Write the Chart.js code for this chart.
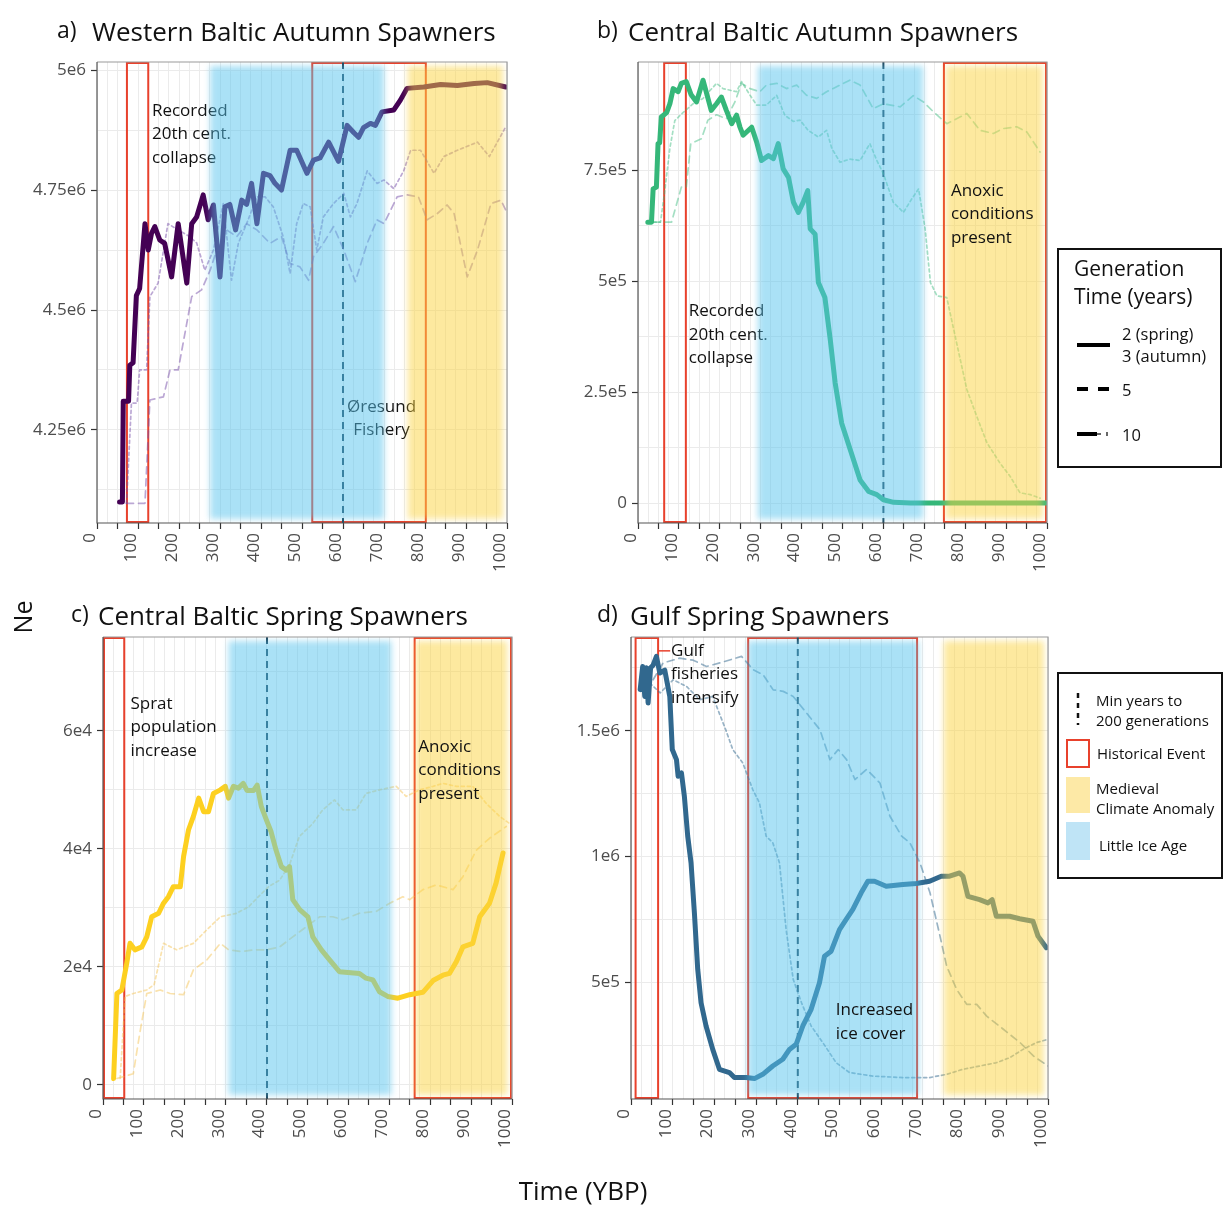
<!DOCTYPE html>
<html>
<head>
<meta charset="utf-8">
<script src="https://cdn.jsdelivr.net/npm/chart.js@4"></script>
<style>
  body { margin: 0; background: #fff; }
  #page { position: relative; width: 1225px; height: 1216px; overflow: hidden; font-family: "Open Sans", sans-serif; }
  .panel { position: absolute; }
  #overlay { position: absolute; left: 0; top: 0; pointer-events: none; }
  #overlay text { font-family: "Open Sans", sans-serif; fill: #111; dominant-baseline: central; }
</style>
</head>
<body>
<div id="page">
  <canvas class="panel" id="panelA" width="520" height="545" style="left:0px;top:50px"></canvas>
  <canvas class="panel" id="panelB" width="520" height="545" style="left:540px;top:50px"></canvas>
  <canvas class="panel" id="panelC" width="525" height="545" style="left:0px;top:625px"></canvas>
  <canvas class="panel" id="panelD" width="520" height="545" style="left:540px;top:625px"></canvas>

  <svg id="overlay" width="1225" height="1216">
    <!-- panel titles -->
    <text x="57" y="29" font-size="23">a)</text>
    <text x="92" y="31" font-size="26">Western Baltic Autumn Spawners</text>
    <text x="597" y="29" font-size="23">b)</text>
    <text x="628" y="31" font-size="26">Central Baltic Autumn Spawners</text>
    <text x="71" y="613" font-size="23">c)</text>
    <text x="98" y="615" font-size="26">Central Baltic Spring Spawners</text>
    <text x="597" y="613" font-size="23">d)</text>
    <text x="630" y="615" font-size="26">Gulf Spring Spawners</text>

    <!-- shared axis titles -->
    <text x="22" y="617" font-size="25" text-anchor="middle" transform="rotate(-90 22 617)">Ne</text>
    <text x="583" y="1190" font-size="26" text-anchor="middle">Time (YBP)</text>

    <!-- legend: generation time -->
    <rect x="1058" y="249" width="163" height="218" fill="#fff" stroke="#111" stroke-width="2"/>
    <text x="1074" y="268" font-size="21">Generation</text>
    <text x="1074" y="296" font-size="21">Time (years)</text>
    <line x1="1077" y1="345" x2="1110" y2="345" stroke="#000" stroke-width="4"/>
    <text x="1122" y="333" font-size="16.5">2 (spring)</text>
    <text x="1122" y="355" font-size="16.5">3 (autumn)</text>
    <line x1="1077" y1="389" x2="1109" y2="389" stroke="#000" stroke-width="4" stroke-dasharray="11 10"/>
    <text x="1122" y="389" font-size="16.5">5</text>
    <line x1="1077" y1="434" x2="1097" y2="434" stroke="#000" stroke-width="4"/>
    <line x1="1097" y1="434" x2="1101" y2="434" stroke="#000" stroke-width="1.2"/>
    <line x1="1107" y1="432" x2="1107" y2="436" stroke="#000" stroke-width="1.2"/>
    <text x="1122" y="434" font-size="16.5">10</text>

    <!-- legend: annotations -->
    <rect x="1058" y="673" width="164" height="205" fill="#fff" stroke="#111" stroke-width="2"/>
    <line x1="1078" y1="693" x2="1078" y2="725" stroke="#111" stroke-width="2.5" stroke-dasharray="5 5"/>
    <text x="1096" y="700" font-size="15">Min years to</text>
    <text x="1096" y="720" font-size="15">200 generations</text>
    <rect x="1067" y="740" width="22" height="27" fill="none" stroke="#e8412c" stroke-width="2"/>
    <text x="1097" y="753" font-size="15">Historical Event</text>
    <rect x="1066" y="777" width="24" height="36" fill="#fde9a6"/>
    <text x="1096" y="788" font-size="15">Medieval</text>
    <text x="1096" y="808" font-size="15">Climate Anomaly</text>
    <rect x="1066" y="822" width="24" height="38" fill="#bfe4f6"/>
    <text x="1099" y="845" font-size="15">Little Ice Age</text>
  </svg>
</div>

<script>
// ---- data: [years before present, Ne] ----

// a) Western Baltic autumn spawners
const westSolid = [[55,4.10e6],[62,4.10e6],[64,4.31e6],[77,4.31e6],[80,4.385e6],[88,4.39e6],[96,4.53e6],[104,4.545e6],[117,4.68e6],[125,4.625e6],[133,4.66e6],[141,4.674e6],[153,4.646e6],[165,4.639e6],[182,4.569e6],[198,4.68e6],[219,4.556e6],[231,4.68e6],[243,4.694e6],[259,4.74e6],[271,4.688e6],[284,4.719e6],[300,4.569e6],[312,4.715e6],[324,4.72e6],[338,4.667e6],[353,4.729e6],[365,4.72e6],[377,4.764e6],[390,4.68e6],[406,4.785e6],[422,4.78e6],[434,4.764e6],[450,4.75e6],[471,4.833e6],[487,4.833e6],[512,4.785e6],[528,4.8125e6],[544,4.817e6],[565,4.85e6],[589,4.81e6],[610,4.885e6],[626,4.87e6],[638,4.86e6],[650,4.88e6],[667,4.889e6],[679,4.885e6],[695,4.913e6],[724,4.917e6],[740,4.9375e6],[756,4.962e6],[797,4.965e6],[838,4.97e6],[879,4.968e6],[920,4.972e6],[952,4.974e6],[997,4.965e6]];
const westDot = [[72,4.097e6],[84,4.306e6],[98,4.306e6],[104,4.375e6],[121,4.375e6],[129,4.528e6],[149,4.556e6],[173,4.68e6],[198,4.667e6],[226,4.653e6],[243,4.64e6],[263,4.583e6],[284,4.625e6],[308,4.722e6],[328,4.562e6],[345,4.64e6],[365,4.68e6],[390,4.736e6],[410,4.736e6],[430,4.715e6],[454,4.653e6],[471,4.576e6],[487,4.68e6],[503,4.722e6],[520,4.715e6],[536,4.625e6],[552,4.694e6],[577,4.722e6],[602,4.743e6],[618,4.694e6],[634,4.722e6],[659,4.79e6],[683,4.764e6],[700,4.771e6],[724,4.753e6],[748,4.79e6],[765,4.833e6],[789,4.833e6],[822,4.785e6],[846,4.82e6],[879,4.833e6],[928,4.85e6],[957,4.82e6],[997,4.882e6]];
const westDash = [[72,4.097e6],[117,4.097e6],[129,4.3125e6],[162,4.319e6],[178,4.375e6],[198,4.375e6],[231,4.528e6],[255,4.542e6],[276,4.583e6],[292,4.625e6],[316,4.667e6],[341,4.653e6],[365,4.68e6],[390,4.667e6],[422,4.639e6],[450,4.653e6],[471,4.597e6],[495,4.59e6],[516,4.562e6],[528,4.611e6],[552,4.639e6],[577,4.674e6],[602,4.625e6],[630,4.559e6],[659,4.639e6],[683,4.688e6],[700,4.68e6],[732,4.736e6],[756,4.74e6],[784,4.736e6],[805,4.688e6],[830,4.701e6],[854,4.719e6],[871,4.701e6],[903,4.569e6],[928,4.625e6],[961,4.722e6],[985,4.729e6],[997,4.708e6]];

// b) Central Baltic autumn spawners
const cenAutSolid = [[24,633e3],[33,633e3],[37,708e3],[45,712e3],[49,810e3],[53,812e3],[57,870e3],[70,880e3],[78,900e3],[86,934e3],[98,927e3],[106,946e3],[118,950e3],[130,920e3],[143,904e3],[159,953e3],[179,885e3],[192,900e3],[204,915e3],[216,885e3],[229,855e3],[241,874e3],[249,848e3],[257,829e3],[278,847e3],[290,814e3],[302,772e3],[319,783e3],[331,776e3],[343,810e3],[355,753e3],[368,734e3],[380,678e3],[392,655e3],[404,678e3],[415,704e3],[421,618e3],[433,606e3],[441,497e3],[457,463e3],[470,369e3],[482,271e3],[498,180e3],[519,120e3],[543,52e3],[564,26e3],[584,19e3],[600,7.5e3],[625,1.5e3],[666,0],[1000,0]];
const cenAutDot = [[37,633e3],[55,633e3],[65,700e3],[78,800e3],[90,862e3],[110,880e3],[135,900e3],[159,912e3],[192,946e3],[208,934e3],[241,927e3],[253,950e3],[274,919e3],[290,897e3],[314,897e3],[339,919e3],[359,874e3],[380,860e3],[396,863e3],[416,840e3],[441,825e3],[461,840e3],[474,799e3],[494,768e3],[518,775e3],[543,772e3],[567,810e3],[584,772e3],[600,742e3],[624,678e3],[649,655e3],[669,685e3],[686,708e3],[702,618e3],[715,497e3],[731,467e3],[755,463e3],[779,361e3],[804,256e3],[828,196e3],[853,136e3],[885,90e3],[910,60e3],[934,23e3],[959,19e3],[983,11e3]];
const cenAutDash = [[37,633e3],[82,633e3],[106,712e3],[118,712e3],[129,810e3],[155,821e3],[171,863e3],[192,875e3],[216,866e3],[237,904e3],[253,946e3],[274,934e3],[298,927e3],[314,942e3],[339,946e3],[363,934e3],[388,942e3],[412,919e3],[437,912e3],[461,927e3],[494,942e3],[518,953e3],[543,942e3],[575,889e3],[600,900e3],[641,893e3],[673,918e3],[698,904e3],[722,882e3],[755,855e3],[779,866e3],[804,878e3],[836,840e3],[869,833e3],[893,844e3],[926,848e3],[951,836e3],[983,791e3]];

// c) Central Baltic spring spawners
const cenSprSolid = [[26,1.1e3],[34,15.5e3],[46,16.1e3],[58,20.6e3],[66,24e3],[78,22.9e3],[95,23.4e3],[107,25.1e3],[119,28.5e3],[136,29.1e3],[148,30.8e3],[160,31.9e3],[172,33.6e3],[189,33.6e3],[197,38.7e3],[209,43.2e3],[221,45.5e3],[234,48.6e3],[246,46.3e3],[258,46.3e3],[270,49.4e3],[287,50e3],[299,50.6e3],[307,48.6e3],[319,50.6e3],[331,50.3e3],[343,51.1e3],[352,49.9e3],[368,49.9e3],[377,50.8e3],[387,47.2e3],[399,45e3],[411,42.9e3],[423,39.8e3],[436,37e3],[448,36.4e3],[456,37e3],[464,31.4e3],[481,29.7e3],[501,28.5e3],[513,25.1e3],[534,22.9e3],[554,21.2e3],[578,19.2e3],[627,18.9e3],[643,18.1e3],[660,17.8e3],[676,15.8e3],[696,15e3],[721,14.7e3],[750,15.3e3],[782,15.7e3],[807,17.7e3],[831,18.6e3],[847,18.9e3],[864,20.9e3],[880,23.4e3],[904,24e3],[921,28.5e3],[945,30.8e3],[961,34.2e3],[978,39.3e3]];
const cenSprDot = [[42,1.1e3],[54,15e3],[74,15.5e3],[107,16.1e3],[125,17e3],[148,24e3],[180,22.9e3],[221,24e3],[254,26.3e3],[287,28.5e3],[327,29.1e3],[356,30.2e3],[380,31.9e3],[405,33.6e3],[432,34.7e3],[456,37.3e3],[480,42.1e3],[513,44.3e3],[537,46.6e3],[566,48.3e3],[587,46.6e3],[619,46.6e3],[643,49.4e3],[676,50e3],[717,50.6e3],[741,48.9e3],[774,50e3],[807,50.6e3],[831,51.1e3],[864,50.6e3],[904,50.6e3],[937,47.7e3],[970,45.5e3],[994,44.3e3]];
const cenSprDash = [[34,1.1e3],[74,1.9e3],[90,8.8e3],[107,15.5e3],[140,16.1e3],[164,15.5e3],[197,15.3e3],[221,19.5e3],[254,21.2e3],[287,24e3],[307,22.9e3],[340,22.6e3],[368,22.9e3],[400,22.9e3],[432,23.4e3],[464,25.1e3],[497,26.8e3],[530,28.5e3],[562,28.5e3],[587,28e3],[627,29.1e3],[668,29.4e3],[701,30.8e3],[733,31.9e3],[750,31.4e3],[782,33.1e3],[815,33.9e3],[856,33.1e3],[880,35.3e3],[913,39.8e3],[945,41.8e3],[986,43.8e3]];

// d) Gulf spring spawners
const gulfSolid = [[22,1.663e6],[28,1.755e6],[33,1.636e6],[37,1.75e6],[41,1.61e6],[47,1.75e6],[53,1.76e6],[61,1.795e6],[69,1.729e6],[81,1.74e6],[93,1.636e6],[99,1.425e6],[109,1.385e6],[113,1.319e6],[121,1.332e6],[128,1.239e6],[136,1.081e6],[144,0.975e6],[152,0.777e6],[160,0.552e6],[168,0.419e6],[180,0.327e6],[196,0.234e6],[212,0.155e6],[236,0.142e6],[248,0.122e6],[276,0.122e6],[296,0.118e6],[316,0.135e6],[340,0.168e6],[364,0.195e6],[380,0.234e6],[396,0.254e6],[412,0.327e6],[432,0.393e6],[452,0.499e6],[464,0.604e6],[480,0.624e6],[500,0.71e6],[516,0.75e6],[532,0.79e6],[552,0.856e6],[568,0.902e6],[584,0.902e6],[612,0.882e6],[652,0.889e6],[684,0.893e6],[716,0.902e6],[744,0.922e6],[764,0.922e6],[788,0.935e6],[796,0.922e6],[808,0.842e6],[836,0.829e6],[856,0.816e6],[866,0.829e6],[876,0.763e6],[908,0.763e6],[932,0.753e6],[964,0.743e6],[976,0.684e6],[996,0.638e6]];
const gulfDot = [[45,1.689e6],[70,1.65e6],[101,1.702e6],[133,1.676e6],[165,1.623e6],[196,1.636e6],[228,1.5e6],[244,1.425e6],[268,1.372e6],[292,1.266e6],[308,1.213e6],[324,1.081e6],[340,1.055e6],[356,0.975e6],[372,0.71e6],[389,0.512e6],[409,0.419e6],[432,0.327e6],[460,0.261e6],[492,0.181e6],[524,0.142e6],[580,0.128e6],[652,0.122e6],[716,0.122e6],[757,0.135e6],[796,0.155e6],[836,0.168e6],[876,0.181e6],[908,0.201e6],[940,0.234e6],[972,0.261e6],[1000,0.274e6]];
const gulfDash = [[53,1.702e6],[77,1.769e6],[117,1.788e6],[149,1.78e6],[181,1.755e6],[213,1.769e6],[265,1.795e6],[293,1.742e6],[317,1.722e6],[341,1.662e6],[365,1.656e6],[389,1.636e6],[421,1.57e6],[453,1.504e6],[477,1.385e6],[497,1.425e6],[517,1.385e6],[537,1.306e6],[565,1.346e6],[597,1.292e6],[621,1.16e6],[649,1.081e6],[669,1.054e6],[693,0.975e6],[717,0.856e6],[741,0.684e6],[757,0.565e6],[781,0.472e6],[805,0.413e6],[829,0.413e6],[853,0.366e6],[893,0.314e6],[933,0.261e6],[965,0.208e6],[1000,0.168e6]];

// axis ticks
const xLabelTicks = [0, 100, 200, 300, 400, 500, 600, 700, 800, 900, 1000];
const westTicks = [4.25e6, 4.5e6, 4.75e6, 5e6];
const westTickLabels = ['4.25e6', '4.5e6', '4.75e6', '5e6'];
const cenAutTicks = [0, 2.5e5, 5e5, 7.5e5];
const cenAutTickLabels = ['0', '2.5e5', '5e5', '7.5e5'];
const cenSprTicks = [0, 2e4, 4e4, 6e4];
const cenSprTickLabels = ['0', '2e4', '4e4', '6e4'];
const gulfTicks = [5e5, 1e6, 1.5e6];
const gulfTickLabels = ['5e5', '1e6', '1.5e6'];

const FONT = '"Open Sans", sans-serif';
const BLUE_BAND = 'rgba(86,196,238,0.5)';
const YELLOW_BAND = 'rgba(251,212,64,0.5)';
const RED = '#e8412c';

const toXY = arr => arr.map(p => ({ x: p[0], y: p[1] }));

function makePanel(id, p) {
  // grid every 25 years, tick marks every 50, labels every 100
  const xGrid = [];
  for (let v = 0; v <= 1000; v += 25) xGrid.push(v);
  const yStep = p.yTicks[1] - p.yTicks[0];
  const yGrid = [];
  for (let v = p.yTicks[0] - 4 * yStep; v <= p.yMax; v += yStep / 2) {
    if (v >= p.yMin) yGrid.push(v);
  }

  const decor = {
    id: 'decor_' + id,
    beforeDatasetsDraw(chart) {
      const ctx = chart.ctx, a = chart.chartArea, xs = chart.scales.x;
      ctx.save();
      // historical events
      ctx.strokeStyle = RED;
      ctx.lineWidth = 2;
      p.events.forEach(e => {
        const x0 = Math.max(xs.getPixelForValue(e[0]), a.left + 1);
        const x1 = Math.min(xs.getPixelForValue(e[1]), a.right - 1);
        ctx.strokeRect(x0, a.top + 1, x1 - x0, a.height - 2);
      });
      // min years to 200 generations
      const gx = xs.getPixelForValue(p.gen200);
      ctx.strokeStyle = '#1c3f55';
      ctx.lineWidth = 2;
      ctx.setLineDash([7, 5]);
      ctx.beginPath();
      ctx.moveTo(gx, a.top);
      ctx.lineTo(gx, a.bottom);
      ctx.stroke();
      ctx.restore();
      drawTexts(chart, false);
    },
    afterDatasetsDraw(chart) {
      const ctx = chart.ctx, a = chart.chartArea, xs = chart.scales.x;
      ctx.save();
      ctx.beginPath();
      ctx.rect(a.left, a.top, a.width, a.height);
      ctx.clip();
      ctx.filter = 'blur(3px)';
      const band = (r, col) => {
        const x0 = xs.getPixelForValue(r[0]), x1 = xs.getPixelForValue(r[1]);
        ctx.fillStyle = col;
        ctx.fillRect(x0, a.top + 4, x1 - x0, a.height - 8);
      };
      band(p.lia, BLUE_BAND);
      band(p.mca, YELLOW_BAND);
      ctx.restore();
      drawTexts(chart, true);
      // panel border
      ctx.save();
      ctx.lineWidth = 1.2;
      ctx.strokeStyle = '#9a9a9a';
      ctx.beginPath();
      ctx.moveTo(a.left, a.top); ctx.lineTo(a.right, a.top); ctx.lineTo(a.right, a.bottom);
      ctx.stroke();
      ctx.strokeStyle = '#555';
      ctx.beginPath();
      ctx.moveTo(a.left, a.top); ctx.lineTo(a.left, a.bottom); ctx.lineTo(a.right, a.bottom);
      ctx.stroke();
      ctx.restore();
    }
  };

  function drawTexts(chart, onTop) {
    const ctx = chart.ctx, xs = chart.scales.x, ys = chart.scales.y;
    ctx.save();
    ctx.font = '17px ' + FONT;
    ctx.fillStyle = '#111';
    ctx.textBaseline = 'middle';
    p.notes.filter(n => !!n.top === onTop).forEach(n => {
      const x = xs.getPixelForValue(n.x), y = ys.getPixelForValue(n.y);
      ctx.textAlign = n.align || 'left';
      n.lines.forEach((t, i) => ctx.fillText(t, x, y + i * 23.5));
      if (n.leader) {
        ctx.strokeStyle = RED;
        ctx.lineWidth = 1.5;
        ctx.beginPath();
        ctx.moveTo(xs.getPixelForValue(n.leader[0]), y);
        ctx.lineTo(xs.getPixelForValue(n.leader[1]), y);
        ctx.stroke();
      }
    });
    ctx.restore();
  }

  const majorColor = c => (c.tick && Math.abs(c.tick.value % 50) < 1e-6) ? '#333' : 'rgba(0,0,0,0)';
  const yMajor = c => (c.tick && p.yTicks.some(t => Math.abs(t - c.tick.value) < yStep * 1e-3)) ? '#333' : 'rgba(0,0,0,0)';

  new Chart(document.getElementById(id), {
    type: 'line',
    data: {
      datasets: [
        { data: toXY(p.solid), borderColor: p.color, borderWidth: 5 },
        { data: toXY(p.dash), borderColor: p.faint, borderWidth: 1.7, borderDash: [7, 5] },
        { data: toXY(p.dot), borderColor: p.faint, borderWidth: 1.7, borderDash: [3, 3] }
      ]
    },
    options: {
      responsive: false,
      animation: false,
      layout: { padding: { top: p.padTop, right: p.padRight, left: 0, bottom: 0 } },
      elements: {
        point: { radius: 0 },
        line: { tension: 0, borderJoinStyle: 'round', borderCapStyle: 'round' }
      },
      plugins: { legend: { display: false }, tooltip: { enabled: false } },
      scales: {
        x: {
          type: 'linear', min: 0, max: 1000,
          afterFit: s => { s.height = p.xAxisH; s.paddingLeft = 0; s.paddingRight = 0; },
          afterBuildTicks: s => { s.ticks = xGrid.map(v => ({ value: v })); },
          ticks: {
            autoSkip: false, minRotation: 90, maxRotation: 90, padding: 4, labelOffset: -7,
            color: '#4d4d4d', font: { size: 17, family: FONT },
            callback: v => xLabelTicks.includes(v) ? String(v) : ''
          },
          grid: { color: '#ebebeb', lineWidth: 1, tickLength: 6, tickColor: majorColor, tickWidth: 1.2 },
          border: { display: false }
        },
        y: {
          type: 'linear', min: p.yMin, max: p.yMax,
          afterFit: s => { s.width = p.yAxisW; s.paddingTop = 0; s.paddingBottom = 0; },
          afterBuildTicks: s => { s.ticks = yGrid.map(v => ({ value: v })); },
          ticks: {
            autoSkip: false, padding: 5,
            color: '#4d4d4d', font: { size: 17, family: FONT },
            callback: v => {
              const i = p.yTicks.findIndex(t => Math.abs(t - v) < yStep * 1e-3);
              return i >= 0 ? p.yTickLabels[i] : '';
            }
          },
          grid: { color: '#ebebeb', lineWidth: 1, tickLength: 6, tickColor: yMajor, tickWidth: 1.2 },
          border: { display: false }
        }
      }
    },
    plugins: [decor]
  });
}

makePanel('panelA', {
  solid: westSolid, dash: westDash, dot: westDot,
  color: '#440154', faint: 'rgba(120,80,170,0.5)',
  yMin: 4.056e6, yMax: 5.017e6, yTicks: westTicks, yTickLabels: westTickLabels,
  yAxisW: 97, xAxisH: 72, padTop: 12, padRight: 13,
  events: [[73, 125], [525, 802]], lia: [276, 700], mca: [758, 990], gen200: 600,
  notes: [
    { x: 134, y: 4.915e6, lines: ['Recorded', '20th cent.', 'collapse'] },
    { x: 694, y: 4.298e6, lines: ['Øresund', 'Fishery'], align: 'center' }
  ]
});

makePanel('panelB', {
  solid: cenAutSolid, dash: cenAutDash, dot: cenAutDot,
  color: '#35b779', faint: 'rgba(53,183,121,0.45)',
  yMin: -4.5e4, yMax: 9.94e5, yTicks: cenAutTicks, yTickLabels: cenAutTickLabels,
  yAxisW: 98, xAxisH: 72, padTop: 12, padRight: 13,
  events: [[64, 117], [748, 1000]], lia: [293, 697], mca: [752, 990], gen200: 600,
  notes: [
    { x: 124, y: 4.32e5, lines: ['Recorded', '20th cent.', 'collapse'] },
    { x: 765, y: 7.04e5, lines: ['Anoxic', 'conditions', 'present'], top: true }
  ]
});

makePanel('panelC', {
  solid: cenSprSolid, dash: cenSprDash, dot: cenSprDot,
  color: '#fdd020', faint: 'rgba(244,190,70,0.45)',
  yMin: -2373, yMax: 75900, yTicks: cenSprTicks, yTickLabels: cenSprTickLabels,
  yAxisW: 103, xAxisH: 71, padTop: 12, padRight: 13,
  events: [[0, 52], [762, 1000]], lia: [307, 705], mca: [764, 988], gen200: 401,
  notes: [
    { x: 67, y: 6.46e4, lines: ['Sprat', 'population', 'increase'] },
    { x: 771, y: 5.73e4, lines: ['Anoxic', 'conditions', 'present'], top: true }
  ]
});

makePanel('panelD', {
  solid: gulfSolid, dash: gulfDash, dot: gulfDot,
  color: '#31688e', faint: 'rgba(49,104,142,0.5)',
  yMin: 3.7e4, yMax: 1.872e6, yTicks: gulfTicks, yTickLabels: gulfTickLabels,
  yAxisW: 91, xAxisH: 71, padTop: 12, padRight: 12,
  events: [[11, 65], [281, 686]], lia: [280, 690], mca: [750, 990], gen200: 400,
  notes: [
    { x: 96, y: 1.817e6, lines: ['Gulf', 'fisheries', 'intensify'], leader: [65, 94], top: true },
    { x: 491, y: 0.389e6, lines: ['Increased', 'ice cover'], top: true }
  ]
});
</script>
</body>
</html>
